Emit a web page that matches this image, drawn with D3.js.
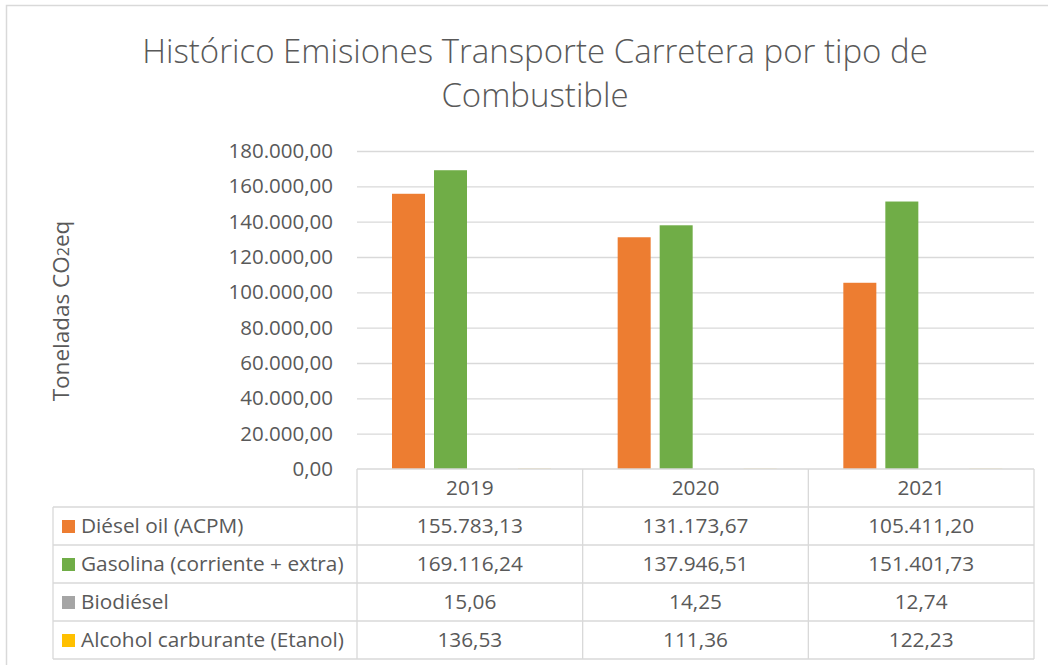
<!DOCTYPE html>
<html>
<head>
<meta charset="utf-8">
<script src="https://cdn.jsdelivr.net/npm/d3@7"></script>
<style>
  body { margin: 0; background: #fff; }
  text { font-family: "Open Sans", Lato, sans-serif; fill: #595959; }
</style>
</head>
<body>
<svg id="chart" width="1048" height="665"></svg>
<script>
// chart data
const years = ["2019", "2020", "2021"];
const seriesNames = ["Diésel oil (ACPM)", "Gasolina (corriente + extra)", "Biodiésel", "Alcohol carburante (Etanol)"];
const seriesColors = ["#ED7D31", "#70AD47", "#A5A5A5", "#FFC000"];
const diesel = [155783.13, 131173.67, 105411.20];
const gasolina = [169116.24, 137946.51, 151401.73];
const biodiesel = [15.06, 14.25, 12.74];
const alcohol = [136.53, 111.36, 122.23];
const yTicks = [0, 20000, 40000, 60000, 80000, 100000, 120000, 140000, 160000, 180000];

const seriesValues = [diesel, gasolina, biodiesel, alcohol];

//spanish number format 180.000,00
const locale = d3.formatLocale({decimal: ",", thousands: ".", grouping: [3], currency: ["", ""]});
const fmt = locale.format(",.2f");

const svg = d3.select("#chart");
const gridColor = "#D9D9D9";
const labelSize = "20.8px";

//outer chart border
svg.append("rect")
  .attr("x", 6.5).attr("y", 5.5)
  .attr("width", 1060).attr("height", 680)
  .attr("fill", "none")
  .attr("stroke", gridColor)
  .attr("stroke-width", 1.5);

//title, two lines
const title = svg.append("text")
  .attr("text-anchor", "middle")
  .style("font-size", "33px")
  .style("font-weight", 300);
title.append("tspan").attr("x", 535).attr("y", 63).text("Histórico Emisiones Transporte Carretera por tipo de");
title.append("tspan").attr("x", 535).attr("y", 107).text("Combustible");

//plot area
const plot = {left: 357, right: 1034, top: 151, bottom: 469};

const x = d3.scaleBand()
  .domain(years)
  .range([plot.left, plot.right])
  .paddingInner(0)
  .paddingOuter(0);

const y = d3.scaleLinear()
  .domain([0, 180000])
  .range([plot.bottom, plot.top]);

//gridlines
svg.append("g")
  .selectAll("line")
  .data(yTicks.filter(d => d > 0))
  .join("line")
  .attr("x1", plot.left).attr("x2", plot.right)
  .attr("y1", d => y(d) + 0.5).attr("y2", d => y(d) + 0.5)
  .attr("stroke", gridColor)
  .attr("stroke-width", 1.3);

//y axis labels
const yAxis = svg.append("g")
  .attr("transform", `translate(${plot.left - 24},0)`)
  .call(d3.axisLeft(y).tickValues(yTicks).tickFormat(fmt).tickSize(0).tickPadding(0));
yAxis.select(".domain").remove();
yAxis.selectAll("text")
  .style("font-size", "20.5px")
  .style("font-family", "'Open Sans', Lato, sans-serif")
  .attr("fill", "#595959");

//y axis title
svg.append("text")
  .attr("transform", "translate(69,311) rotate(-90)")
  .attr("text-anchor", "middle")
  .style("font-size", "22.5px")
  .call(t => {
    t.append("tspan").text("Toneladas CO");
    t.append("tspan").style("font-size", "16px").text("2");
    t.append("tspan").text("eq");
  });

//bars inside each category
const barW = 33;
const barStep = 42;
const groupOffset = 35;

const groups = svg.append("g")
  .selectAll("g")
  .data(years)
  .join("g")
  .attr("transform", d => `translate(${x(d)},0)`);

groups.selectAll("rect")
  .data((d, i) => seriesValues.map((vals, s) => ({s: s, v: vals[i]})))
  .join("rect")
  .attr("x", d => groupOffset + d.s * barStep)
  .attr("width", barW)
  .attr("y", d => y(d.v))
  .attr("height", d => y(0) - y(d.v))
  .attr("fill", d => seriesColors[d.s]);

//data table below the plot
const table = {left: 53, headerTop: 469, rowH: 38};
const tg = svg.append("g");

//header row (years)
tg.selectAll(".year")
  .data(years)
  .join("text")
  .attr("x", d => x(d) + x.bandwidth() / 2)
  .attr("y", table.headerTop + table.rowH / 2 + 7)
  .attr("text-anchor", "middle")
  .style("font-size", labelSize)
  .text(d => d);

//legend labels with color keys
seriesNames.forEach((name, s) => {
  const rowY = table.headerTop + table.rowH * (s + 1);
  tg.append("rect")
    .attr("x", 62).attr("y", rowY + 13)
    .attr("width", 13).attr("height", 13)
    .attr("fill", seriesColors[s]);
  tg.append("text")
    .attr("x", 81).attr("y", rowY + table.rowH / 2 + 7)
    .style("font-size", labelSize)
    .text(name);
  tg.selectAll(null)
    .data(seriesValues[s])
    .join("text")
    .attr("x", (d, i) => x(years[i]) + x.bandwidth() / 2)
    .attr("y", rowY + table.rowH / 2 + 7)
    .attr("text-anchor", "middle")
    .style("font-size", labelSize)
    .text(d => fmt(d));
});

//table lines
const tableBottom = table.headerTop + table.rowH * (seriesNames.length + 1);
const hLines = d3.range(seriesNames.length + 2).map(i => table.headerTop + table.rowH * i);
tg.selectAll(".hl")
  .data(hLines)
  .join("line")
  .attr("x1", (d, i) => i === 0 ? plot.left : table.left)
  .attr("x2", plot.right)
  .attr("y1", d => d).attr("y2", d => d)
  .attr("stroke", gridColor).attr("stroke-width", 1.3);

const vLines = years.map(d => x(d)).concat([plot.right]);
tg.selectAll(".vl")
  .data(vLines)
  .join("line")
  .attr("x1", d => d).attr("x2", d => d)
  .attr("y1", table.headerTop).attr("y2", tableBottom)
  .attr("stroke", gridColor).attr("stroke-width", 1.3);

tg.append("line")
  .attr("x1", table.left).attr("x2", table.left)
  .attr("y1", table.headerTop + table.rowH).attr("y2", tableBottom)
  .attr("stroke", gridColor).attr("stroke-width", 1.3);
</script>
</body>
</html>
